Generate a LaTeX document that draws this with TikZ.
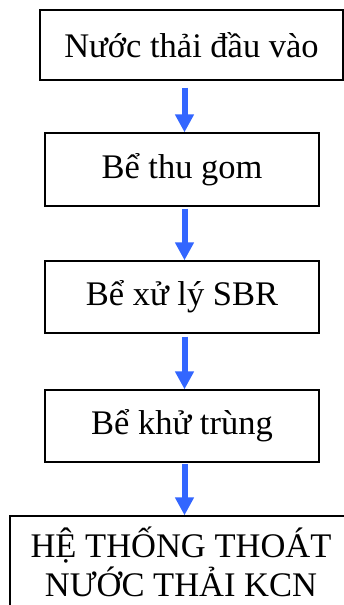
\documentclass[tikz,border=0pt]{standalone}
\usepackage{fontspec}
\setmainfont{Liberation Serif}
\usetikzlibrary{arrows.meta,calc}
\begin{document}
\begin{tikzpicture}[x=1pt,y=1pt,
  stage/.style={draw=black, line width=1.3pt, rectangle, inner sep=0pt,
    font=\fontsize{34.5}{39.5}\selectfont, align=center},
  flow/.style={draw={rgb,255:red,51;green,102;blue,255}, line width=6pt,
    -{Triangle[width=18pt,length=18pt,fill={rgb,255:red,51;green,102;blue,255}]}}]
  \useasboundingbox (0,0) rectangle (344,-605);
  \node[stage, minimum width=303pt, minimum height=70pt] (b1) at (191.5,-45) {Nước thải đầu vào};
  \node[stage, minimum width=274pt, minimum height=73pt] (b2) at (182,-169.5) {Bể thu gom};
  \node[stage, minimum width=274pt, minimum height=72pt] (b3) at (182,-297) {Bể xử lý SBR};
  \node[stage, minimum width=274pt, minimum height=72pt] (b4) at (182,-426) {Bể khử trùng};
  \node[stage, minimum width=342pt, minimum height=92pt] (b5) at (181,-562) {HỆ THỐNG THOÁT\\NƯỚC THẢI KCN};
  \draw[flow] ($(b1.south -| b2.north)+(2.5,-7)$) -- ($(b2.north)+(2.5,0)$);
  \draw[flow] ($(b2.south)+(2.5,-2)$) -- ($(b3.north)+(2.5,0)$);
  \draw[flow] ($(b3.south)+(2.5,-3)$) -- ($(b4.north)+(2.5,0)$);
  \draw[flow] ($(b4.south)+(2.5,-1.5)$) -- ($(b4.south |- b5.north)+(2.5,0)$);
\end{tikzpicture}
\end{document}
